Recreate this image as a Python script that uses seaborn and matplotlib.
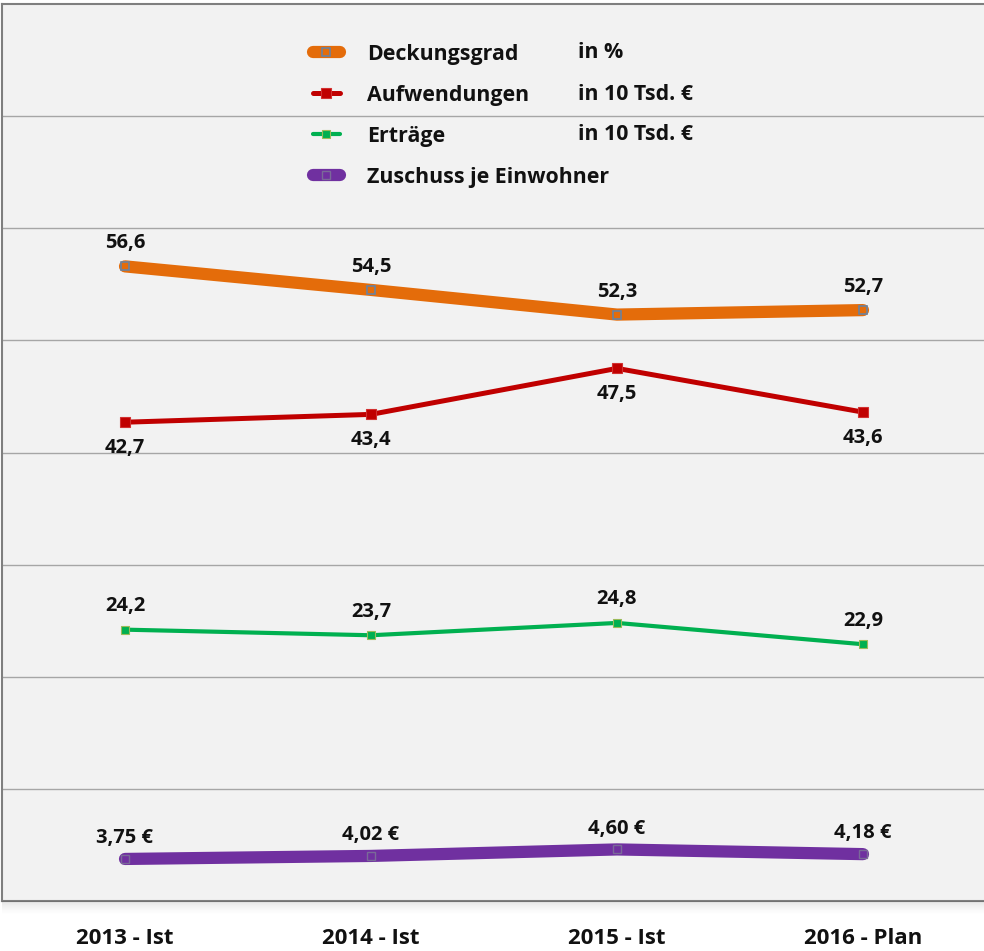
import numpy as np
import pandas as pd
import matplotlib
matplotlib.use("Agg")
import matplotlib.pyplot as plt
from matplotlib.lines import Line2D
from matplotlib.patches import Rectangle
import seaborn as sns

# ── Data ─────────────────────────────────────────────────────────────────────
years = ["2013 - Ist", "2014 - Ist", "2015 - Ist", "2016 - Plan"]
deckungsgrad = [56.6, 54.5, 52.3, 52.7]
aufwendungen = [42.7, 43.4, 47.5, 43.6]
ertraege = [24.2, 23.7, 24.8, 22.9]
zuschuss = [3.75, 4.02, 4.60, 4.18]

series_names = ["Deckungsgrad", "Aufwendungen", "Erträge", "Zuschuss je Einwohner"]
units = ["in %", "in 10 Tsd. €", "in 10 Tsd. €", ""]

# ── Styles ───────────────────────────────────────────────────────────────────
sns.set_style("white")
plt.rcParams["font.family"] = ["Open Sans", "DejaVu Sans"]
plt.rcParams["font.weight"] = "bold"
plt.rcParams["text.color"] = "#111111"

ORANGE, RED, GREEN, PURPLE = "#e46c0a", "#c00000", "#00b050", "#7030a0"
styles = {
    "Deckungsgrad": dict(color=ORANGE, lw=8.8, marker="s", ms=6, mfc="none", mec="#6a82a0", mew=1.2),
    "Aufwendungen": dict(color=RED, lw=3.6, marker="s", ms=6.5, mfc=RED, mec="#d23030", mew=0.8),
    "Erträge": dict(color=GREEN, lw=3.0, marker="s", ms=5.5, mfc=GREEN, mec="#9bbb59", mew=0.8),
    "Zuschuss je Einwohner": dict(color=PURPLE, lw=8.8, marker="s", ms=6, mfc="none", mec="#7a6a98", mew=1.0),
}
label_pos = {  # offset in points: above (+) / below (-)
    "Deckungsgrad": 16.5,
    "Aufwendungen": -18.5,
    "Erträge": 17,
    "Zuschuss je Einwohner": 15,
}

values = {
    "Deckungsgrad": deckungsgrad,
    "Aufwendungen": aufwendungen,
    "Erträge": ertraege,
    "Zuschuss je Einwohner": zuschuss,
}

df = pd.DataFrame(
    [(i, name, v) for name, vals in values.items() for i, v in enumerate(vals)],
    columns=["x", "series", "value"],
)

# ── Figure ───────────────────────────────────────────────────────────────────
fig = plt.figure(figsize=(9.84, 9.51), dpi=100)
fig.patch.set_facecolor("white")
ax = fig.add_axes([2 / 984, 50 / 951, 1.0, 897 / 951])
ax.set_facecolor("#f2f2f2")

# soft shadow under the plot area
for k in range(14):
    fig.patches.append(Rectangle((2 / 984, (50 - k - 1) / 951), 1.0, 1 / 951,
                                 transform=fig.transFigure, color="black",
                                 alpha=0.10 * (1 - k / 14) ** 1.5, lw=0, zorder=0))

for name in series_names:
    st = styles[name]
    sub = df[df["series"] == name]
    sns.lineplot(data=sub, x="x", y="value", ax=ax, color=st["color"], lw=st["lw"],
                 marker=st["marker"], markersize=st["ms"], markerfacecolor=st["mfc"],
                 markeredgecolor=st["mec"], markeredgewidth=st["mew"],
                 solid_capstyle="round", legend=False, zorder=3)
    for i, v in enumerate(values[name]):
        txt = f"{v:.2f} €".replace(".", ",") if name == "Zuschuss je Einwohner" \
            else f"{v:.1f}".replace(".", ",")
        ax.annotate(txt, (i, v), xytext=(0, label_pos[name]), textcoords="offset points",
                    ha="center", va="center", fontsize=14.5, fontweight="bold",
                    color="#111111", zorder=4)

ax.set_xlim(-0.5, 3.5)
ax.set_ylim(0, 80)
ax.set_yticks(np.arange(10, 80, 10))
ax.yaxis.grid(True, color="#a6a6a6", lw=1.0)
ax.tick_params(axis="y", left=False, labelleft=False)
ax.set_xticks(range(len(years)))
ax.set_xticklabels(years, fontsize=16, fontweight="bold", color="#111111")
ax.tick_params(axis="x", bottom=False, pad=16)
ax.set_xlabel("")
ax.set_ylabel("")
for side in ["left", "top", "bottom"]:
    ax.spines[side].set_color("#7f7f7f")
    ax.spines[side].set_linewidth(1.5)
ax.spines["right"].set_visible(False)

# ── Legend ───────────────────────────────────────────────────────────────────
handles = [
    Line2D([], [], color=styles[n]["color"], lw=styles[n]["lw"], marker="s",
           ms=styles[n]["ms"], mfc=styles[n]["mfc"], mec=styles[n]["mec"],
           mew=styles[n]["mew"], solid_capstyle="round")
    for n in series_names
]
fig.legend(handles, series_names, loc="upper left",
           bbox_to_anchor=(304 / 984, 1 - 35 / 951), frameon=False,
           prop=dict(size=15.4, weight="bold"), labelcolor="#111111", handlelength=1.3,
           handletextpad=1.26, labelspacing=0.94, borderaxespad=0, markerscale=1.0)
row_y = [52, 94, 134, 175]
for u, y in zip(units, row_y):
    if u:
        fig.text(578 / 984, 1 - y / 951, u, ha="left", va="center",
                 fontsize=15.4, fontweight="bold", color="#111111")

fig.savefig("out.png", dpi=100)
